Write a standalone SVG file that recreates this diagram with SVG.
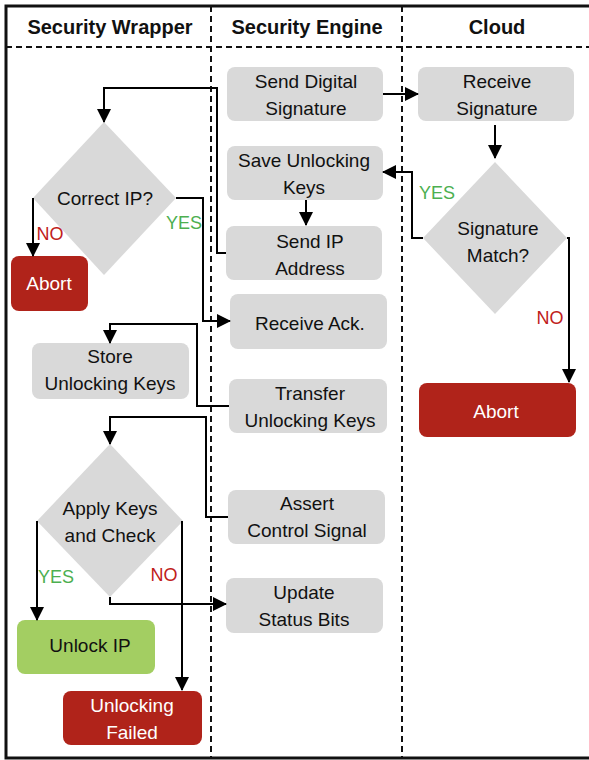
<svg xmlns="http://www.w3.org/2000/svg" width="589" height="760" viewBox="0 0 589 760">
<style>
text{font-family:"Liberation Sans",Arial,sans-serif;font-size:19px;fill:#111;text-anchor:middle;dominant-baseline:central}
.hdr{font-weight:bold;font-size:20px}
.box{fill:#D9D9D9}
.red{fill:#B0231A}
.grn{fill:#A3CE62}
.w{fill:#fff}
.yes{fill:#4CAF50;font-size:18px}
.no{fill:#C0201A;font-size:18px}
.dash{stroke:#111;stroke-width:2;stroke-dasharray:6,4;fill:none}
.con path{fill:none;stroke:#000;stroke-width:2}
</style>
<defs>
<marker id="ah" markerWidth="14" markerHeight="14" refX="13" refY="7" orient="auto" markerUnits="userSpaceOnUse">
<path d="M0,0 L14,7 L0,14 Z" fill="#000"/>
</marker>
</defs>
<rect width="589" height="760" fill="#fff"/>
<g id="frame">
<path d="M595,6 L6,6 L6,758 L595,758" fill="none" stroke="#111" stroke-width="3"/>
<line class="dash" x1="6" y1="47" x2="589" y2="47"/>
<line class="dash" x1="211" y1="6" x2="211" y2="758"/>
<line class="dash" x1="402" y1="6" x2="402" y2="758"/>
<text class="hdr" x="110" y="27">Security Wrapper</text>
<text class="hdr" x="307" y="27">Security Engine</text>
<text class="hdr" x="497" y="27">Cloud</text>
</g>
<g id="send-sig"><rect class="box" x="227" y="67" width="156" height="54" rx="8"/><text x="306" y="81">Send Digital</text><text x="306" y="108">Signature</text></g>
<g id="save-keys"><rect class="box" x="227" y="146" width="156" height="54" rx="8"/><text x="304" y="160">Save Unlocking</text><text x="304" y="187">Keys</text></g>
<g id="send-ip"><rect class="box" x="226" y="226" width="156" height="54" rx="8"/><text x="310" y="241">Send IP</text><text x="310" y="268">Address</text></g>
<g id="recv-ack"><rect class="box" x="230" y="294" width="157" height="55" rx="8"/><text x="310" y="323">Receive Ack.</text></g>
<g id="transfer"><rect class="box" x="229" y="379" width="158" height="54" rx="8"/><text x="310" y="393">Transfer</text><text x="310" y="420">Unlocking Keys</text></g>
<g id="assert"><rect class="box" x="228" y="490" width="157" height="54" rx="8"/><text x="307" y="503">Assert</text><text x="307" y="530">Control Signal</text></g>
<g id="update"><rect class="box" x="226" y="578" width="157" height="55" rx="8"/><text x="304" y="592">Update</text><text x="304" y="619">Status Bits</text></g>
<g id="recv-sig"><rect class="box" x="418" y="67" width="156" height="54" rx="8"/><text x="497" y="81">Receive</text><text x="497" y="108">Signature</text></g>
<g id="sig-match"><polygon class="box" points="495,162 567,238 495,314 423,238"/><text x="498" y="228">Signature</text><text x="498" y="255">Match?</text></g>
<g id="abort-cloud"><rect class="red" x="419" y="383" width="157" height="54" rx="8"/><text class="w" x="496" y="411">Abort</text></g>
<g id="correct-ip"><polygon class="box" points="104,122 176,198 104,275 33,198"/><text x="105" y="198">Correct IP?</text></g>
<g id="abort-left"><rect class="red" x="11" y="256" width="77" height="55" rx="8"/><text class="w" x="49" y="283">Abort</text></g>
<g id="store-keys"><rect class="box" x="32" y="343" width="157" height="56" rx="8"/><text x="110" y="356">Store</text><text x="110" y="383">Unlocking Keys</text></g>
<g id="apply-check"><polygon class="box" points="110,444 183,521 110,597 37,521"/><text x="110" y="508">Apply Keys</text><text x="110" y="535">and Check</text></g>
<g id="unlock-ip"><rect class="grn" x="17" y="620" width="138" height="54" rx="8"/><text x="90" y="645">Unlock IP</text></g>
<g id="unlock-failed"><rect class="red" x="63" y="691" width="139" height="54" rx="8"/><text class="w" x="132" y="705">Unlocking</text><text class="w" x="132" y="732">Failed</text></g>
<g id="connectors" class="con">
<path d="M383,94 L418,94" marker-end="url(#ah)"/>
<path d="M495,125 L495,158" marker-end="url(#ah)"/>
<path d="M423,238 L412,238 L412,172 L383,172" marker-end="url(#ah)"/>
<path d="M567,238 L569,238 L569,382" marker-end="url(#ah)"/>
<path d="M306,200 L306,225" marker-end="url(#ah)"/>
<path d="M226,253 L217,253 L217,88 L104,88 L104,122" marker-end="url(#ah)"/>
<path d="M176,198 L203,198 L203,321 L230,321" marker-end="url(#ah)"/>
<path d="M33,198 L33,256" marker-end="url(#ah)"/>
<path d="M229,406 L197,406 L197,324 L110,324 L110,343" marker-end="url(#ah)"/>
<path d="M228,517 L206,517 L206,417 L110,417 L110,444" marker-end="url(#ah)"/>
<path d="M110,597 L110,604 L226,604" marker-end="url(#ah)"/>
<path d="M37,521 L37,620" marker-end="url(#ah)"/>
<path d="M182,521 L182,690" marker-end="url(#ah)"/>
</g>
<g id="labels">
<text class="yes" x="437" y="193">YES</text>
<text class="no" x="550" y="318">NO</text>
<text class="yes" x="184" y="223">YES</text>
<text class="no" x="50" y="234">NO</text>
<text class="yes" x="56" y="577">YES</text>
<text class="no" x="164" y="575">NO</text>
</g>
</svg>
